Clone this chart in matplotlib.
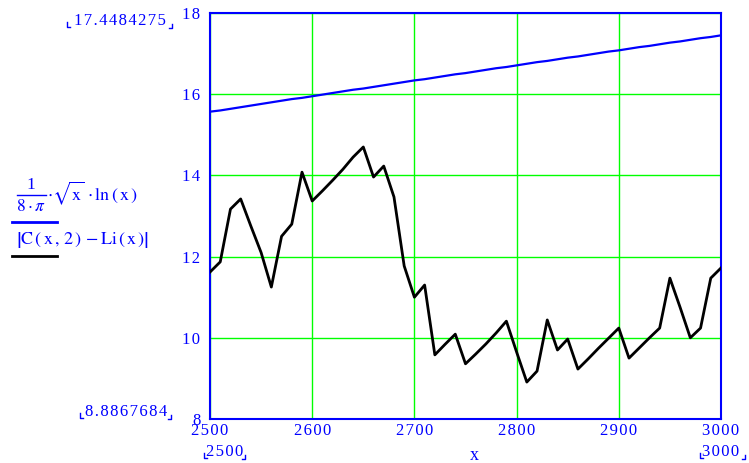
#!/usr/bin/env python3
"""
Prime pair counting error |C(x,2) - Li(x)| against the bound sqrt(x) ln(x) / (8 pi).
"""

import matplotlib
matplotlib.use("Agg")
import matplotlib.pyplot as plt

# sample points
x_vals = list(range(2500, 3001, 10))

# upper curve: 1/(8 pi) * sqrt(x) * ln(x)
bound = [15.57, 15.60, 15.64, 15.68, 15.72, 15.76, 15.80, 15.84, 15.88, 15.91,
         15.95, 15.99, 16.03, 16.07, 16.11, 16.14, 16.18, 16.22, 16.26, 16.30,
         16.34, 16.37, 16.41, 16.45, 16.49, 16.52, 16.56, 16.60, 16.64, 16.67,
         16.71, 16.75, 16.79, 16.82, 16.86, 16.90, 16.93, 16.97, 17.01, 17.05,
         17.08, 17.12, 17.16, 17.19, 17.23, 17.27, 17.30, 17.34, 17.38, 17.41,
         17.45]

# lower curve: |C(x,2) - Li(x)|
err = [11.62, 11.87, 13.17, 13.42, 12.75, 12.10, 11.25, 12.50, 12.80, 14.08,
       13.37, 13.62, 13.88, 14.15, 14.45, 14.70, 13.96, 14.23, 13.47, 11.77,
       11.00, 11.30, 9.58, 9.84, 10.09, 9.36, 9.60, 9.85, 10.12, 10.41,
       9.65, 8.91, 9.18, 10.44, 9.70, 9.97, 9.23, 9.48, 9.74, 9.99,
       10.24, 9.50, 9.75, 10.00, 10.24, 11.47, 10.75, 10.00, 10.24, 11.47,
       11.72]

x_ticks = [2500, 2600, 2700, 2800, 2900, 3000]
y_ticks = [8, 10, 12, 14, 16, 18]
y_top_readout = "17.4484275"
y_bot_readout = "8.8867684"
x_left_readout = "2500"
x_right_readout = "3000"

BLUE = "#0000ff"
GREEN = "#00ff00"
W, H = 749, 463

plt.rcParams["font.family"] = ["Liberation Serif", "DejaVu Serif"]
plt.rcParams["mathtext.fontset"] = "stix"


def spaced(s):
    # Mathcad draws numbers with slightly loose letter spacing
    return "\u200a".join(s)


def px(x, y):
    return x / W, 1 - y / H


def placeholder(fig, x0, x1, y):
    # little corner marks around the Mathcad range readouts
    kw = dict(color=BLUE, lw=1.0)
    fig.add_artist(plt.Line2D(*zip(px(x0, y - 4), px(x0, y + 1), px(x0 + 3, y + 1)), **kw))
    fig.add_artist(plt.Line2D(*zip(px(x1 - 3, y + 2), px(x1, y + 2), px(x1, y - 2)), **kw))


fig = plt.figure(figsize=(7.49, 4.63), dpi=100)
ax = fig.add_axes([0.2804, 0.0950, 0.6822, 0.8769])

ax.plot(x_vals, bound, color=BLUE, lw=1.6, zorder=3)
ax.plot(x_vals, err, color="black", lw=2.0, zorder=3)

ax.set_xlim(2500, 3000)
ax.set_ylim(8, 18)
ax.set_xticks(x_ticks)
ax.set_xticklabels([spaced(str(t)) for t in x_ticks])
ax.set_yticks(y_ticks)
ax.set_yticklabels([spaced(str(t)) for t in y_ticks])
ax.grid(True, color=GREEN, lw=1.0)
for s in ax.spines.values():
    s.set_color(BLUE)
    s.set_linewidth(1.5)
ax.tick_params(length=0, colors=BLUE, labelsize=12)
ax.tick_params(axis="x", pad=3)
ax.tick_params(axis="y", pad=7)

# axis range readouts (Mathcad style)
fs = 12
fig.text(*px(120, 21), spaced(y_top_readout), color=BLUE, fontsize=fs, ha="center", va="center")
placeholder(fig, 67, 172, 26)
fig.text(*px(126, 412), spaced(y_bot_readout), color=BLUE, fontsize=fs, ha="center", va="center")
placeholder(fig, 80, 171, 417)
fig.text(*px(225, 452), spaced(x_left_readout), color=BLUE, fontsize=fs, ha="center", va="center")
placeholder(fig, 204, 245, 457)
fig.text(*px(721, 452), spaced(x_right_readout), color=BLUE, fontsize=fs, ha="center", va="center")
placeholder(fig, 700, 745, 457)
fig.text(*px(474, 455), "x", color=BLUE, fontsize=13, ha="center", va="center")

# legend-like labels on the left: 1/(8 pi) * sqrt(x) * ln(x)
lfs = 12.5
fig.text(*px(31, 185), "1", color=BLUE, fontsize=lfs, ha="center", va="center")
fig.add_artist(plt.Line2D(*zip(px(17, 195), px(46, 195)), color=BLUE, lw=1.0))
fig.text(*px(31, 207), r"$8\cdot\pi$", color=BLUE, fontsize=lfs, ha="center", va="center")
fig.text(*px(47, 193),
         r"$\cdot\sqrt{\mathrm{x}}\,\cdot\mathrm{ln}\,(\,\mathrm{x}\,)$",
         color=BLUE, fontsize=lfs + 0.5, ha="left", va="center")
fig.add_artist(plt.Line2D(*zip(px(12, 222), px(57, 222)), color=BLUE, lw=2.0))
fig.text(*px(16, 240),
         r"$\left|\mathrm{C}\,(\,\mathrm{x}\,,\,2\,)\,-\mathrm{Li}\,(\,\mathrm{x}\,)\right|$",
         color=BLUE, fontsize=lfs + 0.5, ha="left", va="center")
fig.add_artist(plt.Line2D(*zip(px(12, 256), px(57, 256)), color="black", lw=2.0))

fig.savefig("out.png", dpi=100)
